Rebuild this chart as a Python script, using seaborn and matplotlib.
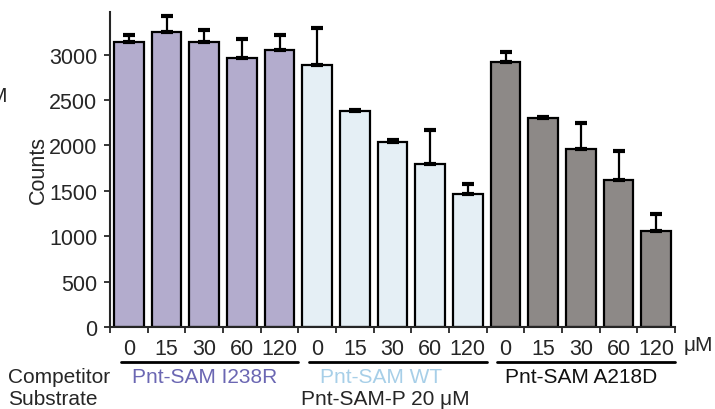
import matplotlib
matplotlib.use('Agg')
import matplotlib.pyplot as plt
import matplotlib.transforms as mtransforms
import numpy as np
import pandas as pd
import seaborn as sns

# datos
groups = ['Pnt-SAM I238R', 'Pnt-SAM WT', 'Pnt-SAM A218D']
conc = ['0', '15', '30', '60', '120']
i238r = [3135, 3255, 3145, 2960, 3055]
i238r_err = [80, 175, 130, 215, 160]
wt = [2885, 2380, 2035, 1795, 1460]
wt_err = [410, 15, 20, 370, 115]
a218d = [2915, 2300, 1960, 1615, 1060]
a218d_err = [110, 12, 290, 325, 185]
yticks = [0, 500, 1000, 1500, 2000, 2500, 3000]

colors = ['#b0a6d3', '#e3f0f7', '#8e8986']
label_colors = ['#6b67b3', '#a7cfe8', '#111111']

df = pd.DataFrame({
    'group': np.repeat(groups, len(conc)),
    'conc': conc * len(groups),
    'counts': i238r + wt + a218d,
    'err': i238r_err + wt_err + a218d_err,
})
df['bar'] = df.group + ' ' + df.conc

sns.set_style('ticks')
plt.rcParams['font.family'] = ['Liberation Sans', 'DejaVu Sans']

fig = plt.figure(figsize=(7.15, 4.10), dpi=100)
ax = fig.add_axes([110/715, 82/410, 565/715, 315/410])

sns.barplot(data=df, x='bar', y='counts', hue='group', palette=colors, dodge=False,
            width=0.78, edgecolor='black', linewidth=1.6, legend=False, ax=ax,
            order=list(df.bar))

xpos = np.arange(len(df))
ax.errorbar(xpos, df.counts, yerr=[np.zeros(len(df)), df.err], fmt='none',
            ecolor='black', elinewidth=1.6, capsize=4, capthick=3, zorder=1)

ax.set_xlim(-0.5, len(df) - 0.5)
ax.set_ylim(0, 3470)
ax.set_yticks(yticks)
ax.set_yticklabels([str(t) for t in yticks], fontsize=15.5)
ax.set_xticks(xpos)
ax.set_xticklabels(df.conc, fontsize=15.5)
ax.tick_params(axis='x', length=0, pad=8)
ax.set_xticks(np.arange(-0.5, len(df), 1.0), minor=True)
ax.tick_params(axis='x', which='minor', length=4, width=1.3, direction='out')
ax.tick_params(axis='y', length=4, width=1.3, direction='out', pad=5)
ax.set_xlabel('')
ax.set_ylabel('Counts', fontsize=15.5, labelpad=0)
for s in ['top', 'right']:
    ax.spines[s].set_visible(False)
ax.spines['left'].set_linewidth(1.5)
ax.spines['bottom'].set_linewidth(1.5)

trans = mtransforms.blended_transform_factory(ax.transData, fig.transFigure)
for g, name in enumerate(groups):
    start = g * len(conc)
    ax.plot([start - 0.22, start + len(conc) - 0.5], [47/410, 47/410], color='black',
            lw=2, transform=trans, clip_on=False)
    ax.text(start + 2 - 0.3 * (g == 1), 32/410, name, color=label_colors[g],
            fontsize=15, ha='center', va='center', transform=trans)

fig.text(684/715, 64/410, 'μM', fontsize=15, ha='left', va='center')
fig.text(8/715, 32/410, 'Competitor', fontsize=15, ha='left', va='center')
fig.text(8/715, 10/410, 'Substrate', fontsize=15, ha='left', va='center')
ax.text(6.8, 10/410, 'Pnt-SAM-P 20 μM', fontsize=15, ha='center', va='center',
        transform=trans)
fig.text(-11/715, 313/410, 'M', fontsize=15, ha='left', va='center')

fig.savefig('out.png', dpi=100)
